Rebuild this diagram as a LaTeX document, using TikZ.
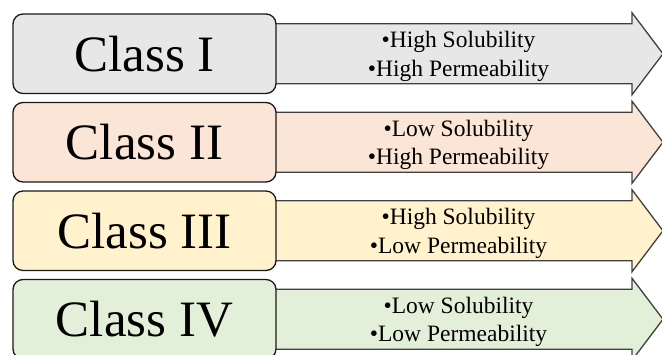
\documentclass[tikz,border=0pt]{standalone}
\usepackage{fontspec}
\setmainfont{Liberation Serif}
\definecolor{bandgray}{HTML}{E7E7E7}
\definecolor{bandpeach}{HTML}{FBE5D6}
\definecolor{bandyellow}{HTML}{FFF2CC}
\definecolor{bandgreen}{HTML}{E2F0D9}
\begin{document}
\begin{tikzpicture}[x=1pt,y=-1pt,
  classbox/.style={draw=black!90, line width=1.3pt, rounded corners=10pt,
    minimum width=263pt, minimum height=79.5pt, inner sep=0pt,
    font=\fontsize{51}{51}\selectfont},
  bandarrow/.style={draw=black!75, line width=1.3pt, line join=miter},
  proptext/.style={align=center, inner sep=0pt,
    font=\fontsize{23.5}{28.5}\selectfont}]
\useasboundingbox (0,0) rectangle (662,354);
\clip (0,0) rectangle (662,354);
\foreach \name/\cy/\col/\lab/\la/\lb in {
  one/53.75/bandgray/Class I/High Solubility/High Permeability,
  two/142.25/bandpeach/Class II/Low Solubility/High Permeability,
  three/230.75/bandyellow/Class III/High Solubility/Low Permeability,
  four/319.25/bandgreen/Class IV/Low Solubility/Low Permeability}{
  % arrow band behind the class box
  \draw[bandarrow, fill=\col]
    (270,\cy-30) -- (632,\cy-30) -- (632,\cy-41) -- (663,\cy)
    -- (632,\cy+41) -- (632,\cy+30) -- (270,\cy+30) -- cycle;
  \node[classbox, fill=\col] (box\name) at (144.5,\cy) {\lab};
  \node[proptext] (prop\name) at (458.5,\cy+2.5) {•\la\\•\lb};
}
\end{tikzpicture}
\end{document}
